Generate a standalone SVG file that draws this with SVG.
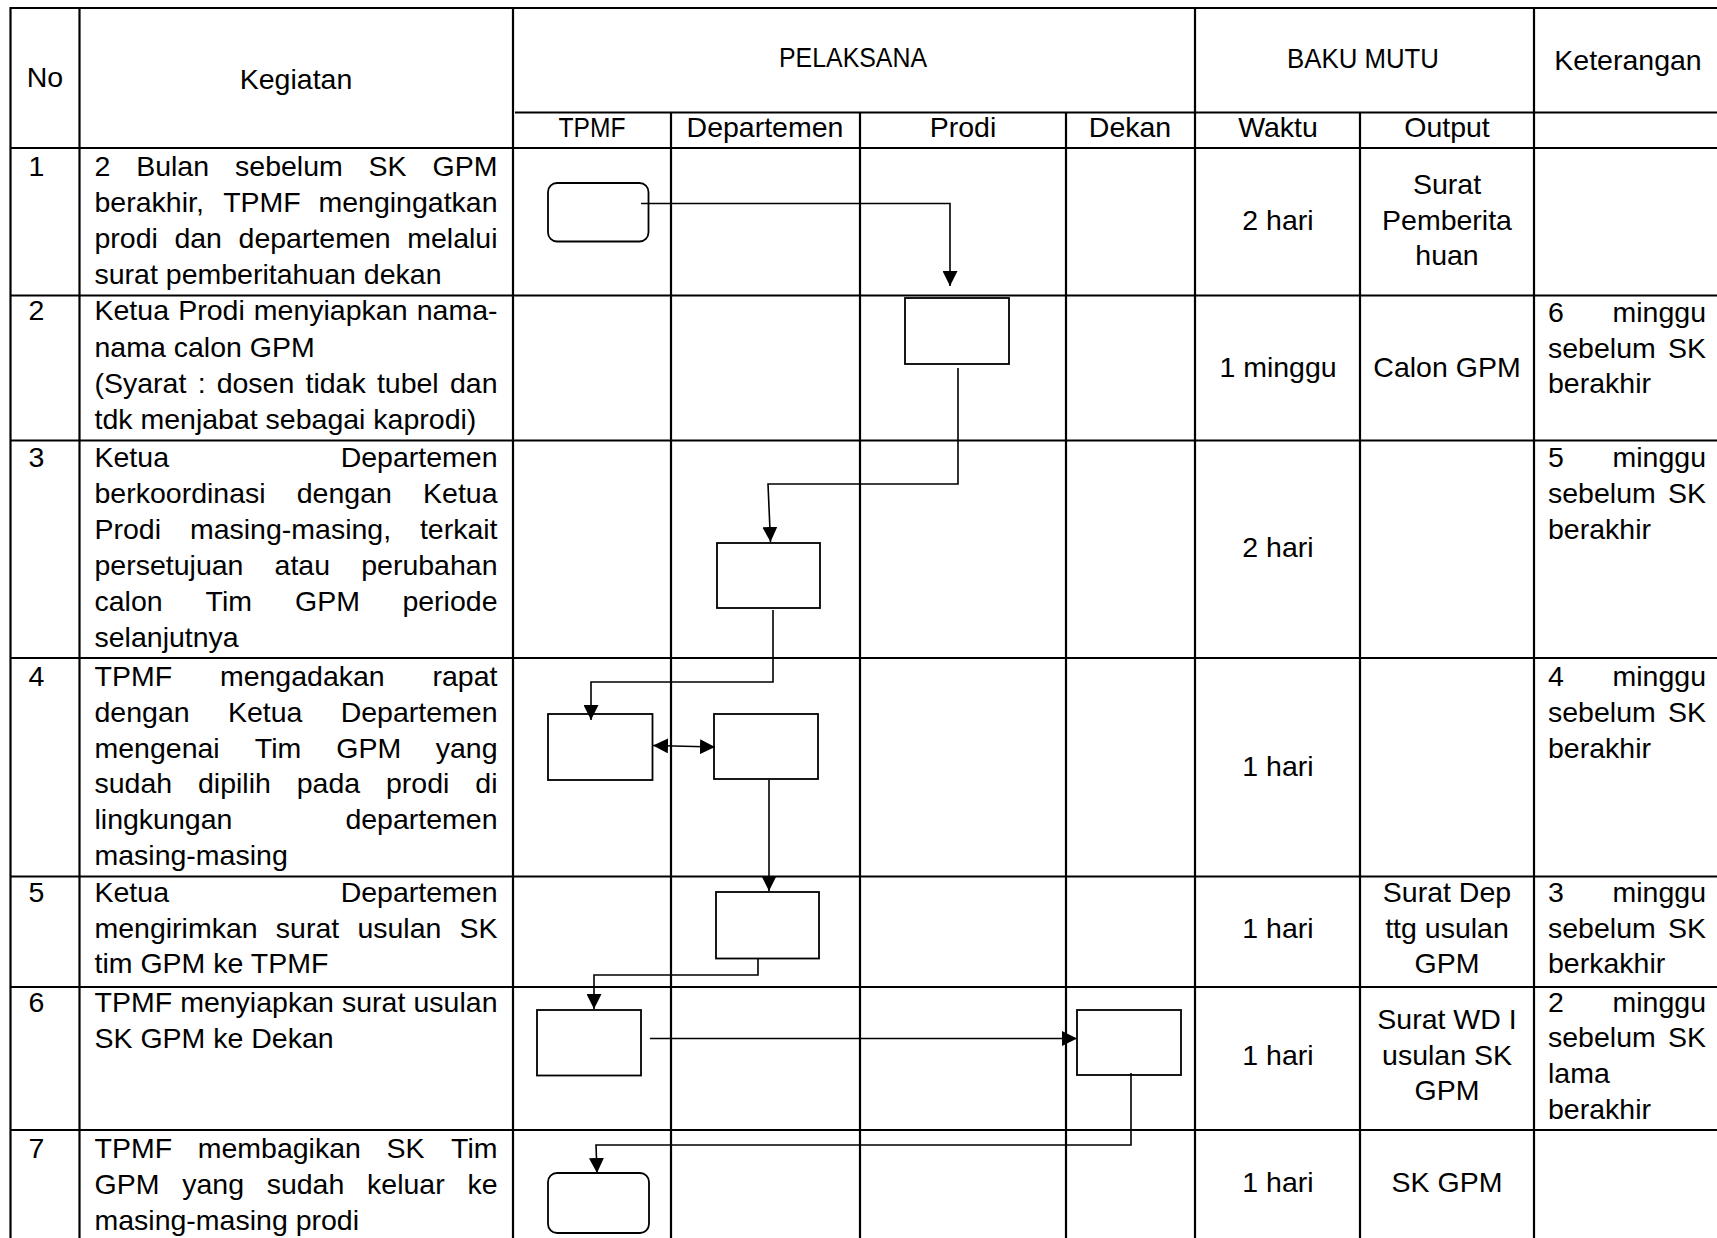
<svg xmlns="http://www.w3.org/2000/svg" width="1717" height="1238" viewBox="0 0 1717 1238">
<style>
.t{font-family:"Liberation Sans",Arial,sans-serif;font-size:28.5px;fill:#000}
.m{text-anchor:middle}
.e{text-anchor:end}
.s{text-anchor:start}
.grid line{stroke:#000;stroke-width:2.2}
.box{fill:#fff;stroke:#000;stroke-width:1.8}
.conn{fill:none;stroke:#000;stroke-width:1.6}
</style>
<defs>
<marker id="arr" markerUnits="userSpaceOnUse" markerWidth="15" markerHeight="15" refX="15" refY="7.5" orient="auto-start-reverse" viewBox="0 0 15 15">
<path d="M0,0 L15,7.5 L0,15 z" fill="#000"/>
</marker>
</defs>
<rect width="1717" height="1238" fill="#fff"/>
<g class="grid">
<line x1="10" y1="8" x2="1717" y2="8"/>
<line x1="515" y1="112.5" x2="1717" y2="112.5"/>
<line x1="10" y1="148" x2="1717" y2="148"/>
<line x1="10" y1="295.5" x2="1717" y2="295.5"/>
<line x1="10" y1="440.5" x2="1717" y2="440.5"/>
<line x1="10" y1="658" x2="1717" y2="658"/>
<line x1="10" y1="876.5" x2="1717" y2="876.5"/>
<line x1="10" y1="987" x2="1717" y2="987"/>
<line x1="10" y1="1130" x2="1717" y2="1130"/>
<line x1="10.5" y1="7" x2="10.5" y2="1238"/>
<line x1="79.5" y1="7" x2="79.5" y2="1238"/>
<line x1="513" y1="7" x2="513" y2="1238"/>
<line x1="1195" y1="7" x2="1195" y2="1238"/>
<line x1="1534" y1="7" x2="1534" y2="1238"/>
<line x1="671" y1="112.5" x2="671" y2="1238"/>
<line x1="860" y1="112.5" x2="860" y2="1238"/>
<line x1="1066" y1="112.5" x2="1066" y2="1238"/>
<line x1="1360" y1="112.5" x2="1360" y2="1238"/>
</g>
<g id="header" class="t">
<text x="45" y="87" class="m">No</text>
<text x="296" y="89" class="m">Kegiatan</text>
<text x="853" y="67" class="m" textLength="148" lengthAdjust="spacingAndGlyphs">PELAKSANA</text>
<text x="1363" y="68" class="m" textLength="152" lengthAdjust="spacingAndGlyphs">BAKU MUTU</text>
<text x="1628" y="70" class="m">Keterangan</text>
<text x="592" y="137" class="m" textLength="67" lengthAdjust="spacingAndGlyphs">TPMF</text>
<text x="765" y="137" class="m">Departemen</text>
<text x="963" y="137" class="m">Prodi</text>
<text x="1130" y="137" class="m">Dekan</text>
<text x="1278" y="137" class="m">Waktu</text>
<text x="1447" y="137" class="m">Output</text>
</g>
<g id="row1" class="t">
<text x="28.5" y="176">1</text>
<text y="176"><tspan x="94.5" class="s">2</tspan><tspan x="172.6" class="m">Bulan</tspan><tspan x="288.9" class="m">sebelum</tspan><tspan x="387.6" class="m">SK</tspan><tspan x="497.5" class="e">GPM</tspan></text>
<text y="212"><tspan x="94.5" class="s">berakhir,</tspan><tspan x="262" class="m">TPMF</tspan><tspan x="497.5" class="e">mengingatkan</tspan></text>
<text y="248"><tspan x="94.5" class="s">prodi</tspan><tspan x="198.2" class="m">dan</tspan><tspan x="314.6" class="m">departemen</tspan><tspan x="497.5" class="e">melalui</tspan></text>
<text x="94.5" y="284">surat pemberitahuan dekan</text>
<text x="1278" y="230" class="m">2 hari</text>
<text x="1447" y="194" class="m">Surat</text>
<text x="1447" y="230" class="m">Pemberita</text>
<text x="1447" y="265" class="m">huan</text>
</g>
<g id="row2" class="t">
<text x="28.5" y="320">2</text>
<text y="320"><tspan x="94.5" class="s">Ketua</tspan><tspan x="211.5" class="m">Prodi</tspan><tspan x="330.7" class="m">menyiapkan</tspan><tspan x="497.5" class="e">nama-</tspan></text>
<text x="94.5" y="356.5">nama calon GPM</text>
<text y="392.5"><tspan x="94.5" class="s">(Syarat</tspan><tspan x="201.6" class="m">:</tspan><tspan x="255.5" class="m">dosen</tspan><tspan x="335.6" class="m">tidak</tspan><tspan x="407.8" class="m">tubel</tspan><tspan x="497.5" class="e">dan</tspan></text>
<text x="94.5" y="428.5">tdk menjabat sebagai kaprodi)</text>
<text x="1278" y="377" class="m">1 minggu</text>
<text x="1447" y="377" class="m">Calon GPM</text>
<text y="322"><tspan x="1548" class="s">6</tspan><tspan x="1706" class="e">minggu</tspan></text>
<text y="358"><tspan x="1548" class="s">sebelum</tspan><tspan x="1706" class="e">SK</tspan></text>
<text x="1548" y="393">berakhir</text>
</g>
<g id="row3" class="t">
<text x="28.5" y="466.5">3</text>
<text y="466.5"><tspan x="94.5" class="s">Ketua</tspan><tspan x="497.5" class="e">Departemen</tspan></text>
<text y="502.5"><tspan x="94.5" class="s">berkoordinasi</tspan><tspan x="344.3" class="m">dengan</tspan><tspan x="497.5" class="e">Ketua</tspan></text>
<text y="538.5"><tspan x="94.5" class="s">Prodi</tspan><tspan x="290.5" class="m">masing-masing,</tspan><tspan x="497.5" class="e">terkait</tspan></text>
<text y="574.5"><tspan x="94.5" class="s">persetujuan</tspan><tspan x="302.3" class="m">atau</tspan><tspan x="497.5" class="e">perubahan</tspan></text>
<text y="610.5"><tspan x="94.5" class="s">calon</tspan><tspan x="228.8" class="m">Tim</tspan><tspan x="327.5" class="m">GPM</tspan><tspan x="497.5" class="e">periode</tspan></text>
<text x="94.5" y="646.5">selanjutnya</text>
<text x="1278" y="557" class="m">2 hari</text>
<text y="466.5"><tspan x="1548" class="s">5</tspan><tspan x="1706" class="e">minggu</tspan></text>
<text y="502.5"><tspan x="1548" class="s">sebelum</tspan><tspan x="1706" class="e">SK</tspan></text>
<text x="1548" y="538.5">berakhir</text>
</g>
<g id="row4" class="t">
<text x="28.5" y="686">4</text>
<text y="686"><tspan x="94.5" class="s">TPMF</tspan><tspan x="302.3" class="m">mengadakan</tspan><tspan x="497.5" class="e">rapat</tspan></text>
<text y="722"><tspan x="94.5" class="s">dengan</tspan><tspan x="265.2" class="m">Ketua</tspan><tspan x="497.5" class="e">Departemen</tspan></text>
<text y="757.5"><tspan x="94.5" class="s">mengenai</tspan><tspan x="278" class="m">Tim</tspan><tspan x="368.8" class="m">GPM</tspan><tspan x="497.5" class="e">yang</tspan></text>
<text y="793"><tspan x="94.5" class="s">sudah</tspan><tspan x="234.4" class="m">dipilih</tspan><tspan x="328.4" class="m">pada</tspan><tspan x="417.7" class="m">prodi</tspan><tspan x="497.5" class="e">di</tspan></text>
<text y="829"><tspan x="94.5" class="s">lingkungan</tspan><tspan x="497.5" class="e">departemen</tspan></text>
<text x="94.5" y="865">masing-masing</text>
<text x="1278" y="776" class="m">1 hari</text>
<text y="686"><tspan x="1548" class="s">4</tspan><tspan x="1706" class="e">minggu</tspan></text>
<text y="722"><tspan x="1548" class="s">sebelum</tspan><tspan x="1706" class="e">SK</tspan></text>
<text x="1548" y="757.5">berakhir</text>
</g>
<g id="row5" class="t">
<text x="28.5" y="902">5</text>
<text y="902"><tspan x="94.5" class="s">Ketua</tspan><tspan x="497.5" class="e">Departemen</tspan></text>
<text y="937.5"><tspan x="94.5" class="s">mengirimkan</tspan><tspan x="307.5" class="m">surat</tspan><tspan x="399.4" class="m">usulan</tspan><tspan x="497.5" class="e">SK</tspan></text>
<text x="94.5" y="973">tim GPM ke TPMF</text>
<text x="1278" y="937.5" class="m">1 hari</text>
<text x="1447" y="902" class="m">Surat Dep</text>
<text x="1447" y="937.5" class="m">ttg usulan</text>
<text x="1447" y="973" class="m">GPM</text>
<text y="902"><tspan x="1548" class="s">3</tspan><tspan x="1706" class="e">minggu</tspan></text>
<text y="937.5"><tspan x="1548" class="s">sebelum</tspan><tspan x="1706" class="e">SK</tspan></text>
<text x="1548" y="973">berkakhir</text>
</g>
<g id="row6" class="t">
<text x="28.5" y="1012">6</text>
<text y="1012"><tspan x="94.5" class="s">TPMF</tspan><tspan x="257" class="m">menyiapkan</tspan><tspan x="373.7" class="m">surat</tspan><tspan x="497.5" class="e">usulan</tspan></text>
<text x="94.5" y="1048">SK GPM ke Dekan</text>
<text x="1278" y="1064.5" class="m">1 hari</text>
<text x="1447" y="1029" class="m">Surat WD I</text>
<text x="1447" y="1064.5" class="m">usulan SK</text>
<text x="1447" y="1100" class="m">GPM</text>
<text y="1011.5"><tspan x="1548" class="s">2</tspan><tspan x="1706" class="e">minggu</tspan></text>
<text y="1047"><tspan x="1548" class="s">sebelum</tspan><tspan x="1706" class="e">SK</tspan></text>
<text x="1548" y="1083">lama</text>
<text x="1548" y="1119">berakhir</text>
</g>
<g id="row7" class="t">
<text x="28.5" y="1158">7</text>
<text y="1158"><tspan x="94.5" class="s">TPMF</tspan><tspan x="279.3" class="m">membagikan</tspan><tspan x="405.4" class="m">SK</tspan><tspan x="497.5" class="e">Tim</tspan></text>
<text y="1194"><tspan x="94.5" class="s">GPM</tspan><tspan x="213.1" class="m">yang</tspan><tspan x="305.5" class="m">sudah</tspan><tspan x="405.9" class="m">keluar</tspan><tspan x="497.5" class="e">ke</tspan></text>
<text x="94.5" y="1229.5">masing-masing prodi</text>
<text x="1278" y="1191.5" class="m">1 hari</text>
<text x="1447" y="1191.5" class="m">SK GPM</text>
</g>
<g id="node1"><rect class="box" x="548" y="183" width="100.5" height="58.5" rx="9"/></g>
<g id="node2"><rect class="box" x="905" y="298" width="104" height="66"/></g>
<g id="node3"><rect class="box" x="717" y="543" width="103" height="65"/></g>
<g id="node4a"><rect class="box" x="548" y="714" width="104.5" height="66"/></g>
<g id="node4b"><rect class="box" x="714" y="714" width="104" height="65"/></g>
<g id="node5"><rect class="box" x="716" y="892" width="103" height="66.5"/></g>
<g id="node6a"><rect class="box" x="537" y="1010" width="104" height="65.5"/></g>
<g id="node6b"><rect class="box" x="1077" y="1010" width="104" height="65"/></g>
<g id="node7"><rect class="box" x="548" y="1173" width="101" height="60" rx="9"/></g>
<g id="connectors" class="conn">
<path d="M641,203.5 H950 V286" marker-end="url(#arr)"/>
<path d="M958,368 V484 H768 L770.5,542" marker-end="url(#arr)"/>
<path d="M773,610 V682 H591 V720" marker-end="url(#arr)"/>
<path d="M653,745.5 L715,747" marker-start="url(#arr)" marker-end="url(#arr)"/>
<path d="M769,780 V891" marker-end="url(#arr)"/>
<path d="M758,959 V975 H594 V1009" marker-end="url(#arr)"/>
<path d="M650,1038.5 H1077" marker-end="url(#arr)"/>
<path d="M1131,1073 V1145 H596 L597,1173" marker-end="url(#arr)"/>
</g>
</svg>
